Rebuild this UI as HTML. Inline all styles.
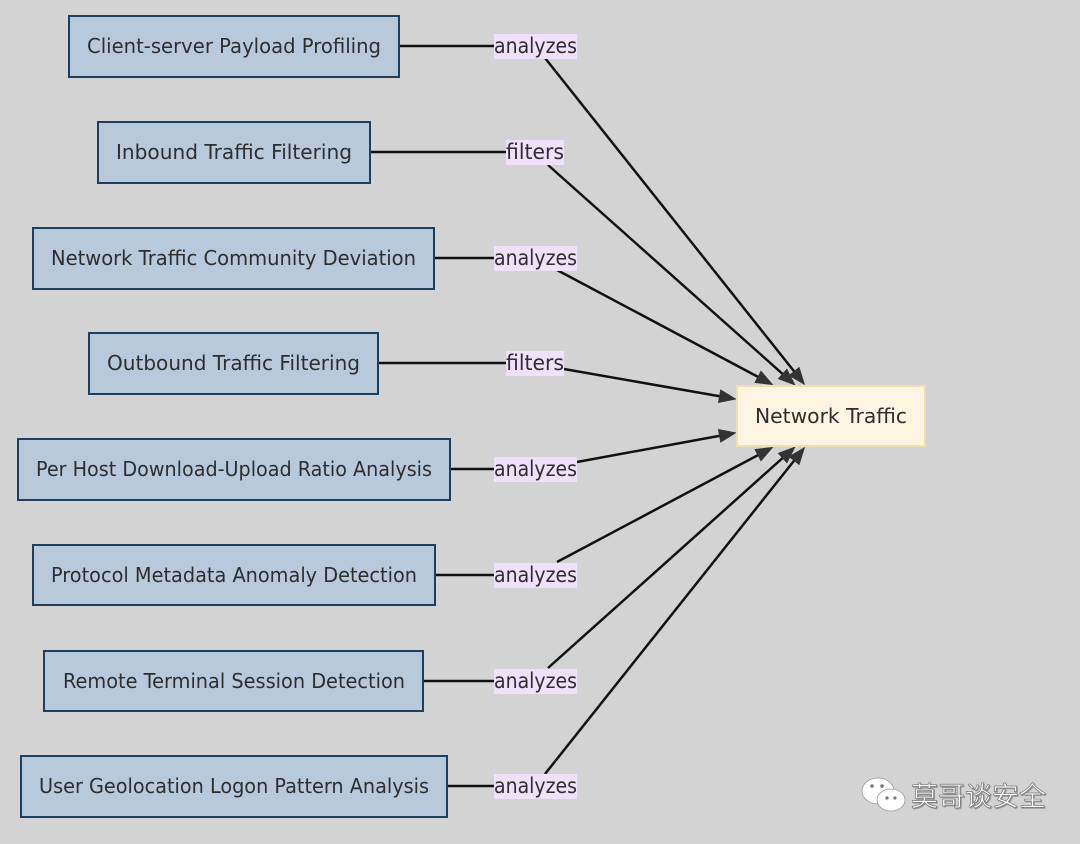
<!DOCTYPE html>
<html><head><meta charset="utf-8"><style>
html,body{margin:0;padding:0;background:#d3d3d3;}
svg{display:block;}
text{font-family:"DejaVu Sans","Liberation Sans",sans-serif;fill:#2e2e2e;}
</style></head><body>
<svg width="1080" height="844" viewBox="0 0 1080 844" xmlns="http://www.w3.org/2000/svg">
<defs><marker id="a" markerWidth="18" markerHeight="14" refX="5" refY="7" orient="auto" markerUnits="userSpaceOnUse"><path d="M0,0 L18,7 L0,14 z" fill="#333"/></marker></defs>
<rect width="1080" height="844" fill="#d3d3d3"/>
<g stroke="#111" stroke-width="2.5" fill="none">
<line x1="399" y1="46" x2="495" y2="46"/><line x1="370" y1="152" x2="507" y2="152"/>
<line x1="434" y1="258" x2="495" y2="258"/><line x1="378" y1="363" x2="507" y2="363"/>
<line x1="450" y1="469" x2="495" y2="469"/><line x1="435" y1="575" x2="495" y2="575"/>
<line x1="423" y1="681" x2="495" y2="681"/><line x1="447" y1="786" x2="495" y2="786"/>
<line x1="545" y1="58" x2="797" y2="375" marker-end="url(#a)"/>
<line x1="548" y1="165" x2="786" y2="377" marker-end="url(#a)"/>
<line x1="557" y1="270" x2="762" y2="379" marker-end="url(#a)"/>
<line x1="564" y1="369" x2="724" y2="397" marker-end="url(#a)"/>
<line x1="577" y1="462" x2="724" y2="435" marker-end="url(#a)"/>
<line x1="557" y1="562" x2="762" y2="453" marker-end="url(#a)"/>
<line x1="548" y1="668" x2="786" y2="455" marker-end="url(#a)"/>
<line x1="545" y1="774" x2="797" y2="457" marker-end="url(#a)"/>
</g>
<g fill="#b8c9dc" stroke="#1f3f60" stroke-width="2">
<rect x="69" y="16" width="330" height="61"/>
<rect x="98" y="122" width="272" height="61"/>
<rect x="33" y="228" width="401" height="61"/>
<rect x="89" y="333" width="289" height="61"/>
<rect x="18" y="439" width="432" height="61"/>
<rect x="33" y="545" width="402" height="60"/>
<rect x="44" y="651" width="379" height="60"/>
<rect x="21" y="756" width="426" height="61"/>
</g>
<rect x="737" y="386" width="188" height="60" fill="#fdf4e1" stroke="#efe0b0" stroke-width="2"/>
<g font-size="20">
<text x="87" y="53" textLength="294" lengthAdjust="spacingAndGlyphs">Client-server Payload Profiling</text>
<text x="116" y="159" textLength="236" lengthAdjust="spacingAndGlyphs">Inbound Traffic Filtering</text>
<text x="51" y="265" textLength="365" lengthAdjust="spacingAndGlyphs">Network Traffic Community Deviation</text>
<text x="107" y="370" textLength="253" lengthAdjust="spacingAndGlyphs">Outbound Traffic Filtering</text>
<text x="36" y="476" textLength="396" lengthAdjust="spacingAndGlyphs">Per Host Download-Upload Ratio Analysis</text>
<text x="51" y="582" textLength="366" lengthAdjust="spacingAndGlyphs">Protocol Metadata Anomaly Detection</text>
<text x="63" y="688" textLength="342" lengthAdjust="spacingAndGlyphs">Remote Terminal Session Detection</text>
<text x="39" y="793" textLength="390" lengthAdjust="spacingAndGlyphs">User Geolocation Logon Pattern Analysis</text>
<text x="755" y="423" textLength="152" lengthAdjust="spacingAndGlyphs">Network Traffic</text>
</g>
<g fill="#efe0fc">
<rect x="494" y="34" width="83" height="25"/><rect x="506" y="140" width="58" height="25"/>
<rect x="494" y="246" width="83" height="25"/><rect x="506" y="351" width="58" height="25"/>
<rect x="494" y="457" width="83" height="25"/><rect x="494" y="563" width="83" height="25"/>
<rect x="494" y="669" width="83" height="25"/><rect x="494" y="774" width="83" height="25"/>
</g>
<g font-size="21">
<text x="494" y="53" textLength="83" lengthAdjust="spacingAndGlyphs">analyzes</text>
<text x="506" y="159" textLength="58" lengthAdjust="spacingAndGlyphs">filters</text>
<text x="494" y="265" textLength="83" lengthAdjust="spacingAndGlyphs">analyzes</text>
<text x="506" y="370" textLength="58" lengthAdjust="spacingAndGlyphs">filters</text>
<text x="494" y="476" textLength="83" lengthAdjust="spacingAndGlyphs">analyzes</text>
<text x="494" y="582" textLength="83" lengthAdjust="spacingAndGlyphs">analyzes</text>
<text x="494" y="688" textLength="83" lengthAdjust="spacingAndGlyphs">analyzes</text>
<text x="494" y="793" textLength="83" lengthAdjust="spacingAndGlyphs">analyzes</text>
</g>
<g fill="#fff" stroke="#999" stroke-width="0.8">
<ellipse cx="878" cy="791" rx="16" ry="13"/>
<ellipse cx="891" cy="800" rx="14" ry="11"/>
</g>
<g fill="#777"><circle cx="872" cy="786" r="1.8"/><circle cx="882" cy="786" r="1.8"/><circle cx="887" cy="798" r="1.6"/><circle cx="895" cy="798" r="1.6"/></g>
<text x="911" y="806" font-size="27" style="font-family:'Noto Sans CJK SC','WenQuanYi Zen Hei',sans-serif;fill:#fff;stroke:#777;stroke-width:0.7;filter:drop-shadow(1px 1px 0 #999)">莫哥谈安全</text>
</svg>
</body></html>
